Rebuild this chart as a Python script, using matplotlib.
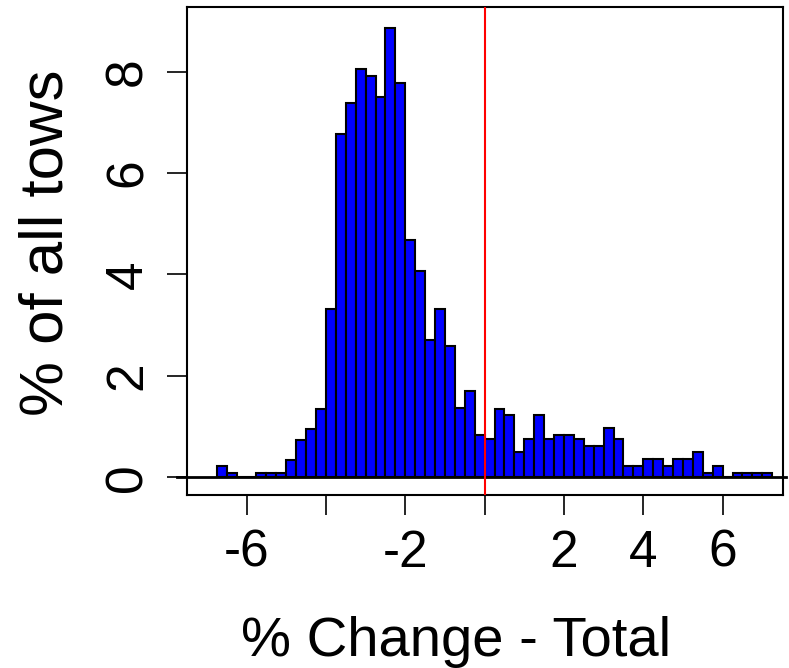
import numpy as np
import matplotlib
matplotlib.use("Agg")
import matplotlib.pyplot as plt

plt.rcParams["font.family"] = ["Liberation Sans", "DejaVu Sans"]

# histogram bins (width 0.25) and % of all tows in each bin
BIN_EDGES = np.arange(-6.75, 7.25 + 0.001, 0.25)
PCT_TOWS = [
    0.22, 0.09, 0.0, 0.0, 0.09, 0.09, 0.09, 0.34,
    0.74, 0.95, 1.35, 3.32, 6.77, 7.39, 8.05, 7.92,
    7.51, 8.87, 7.78, 4.68, 4.06, 2.71, 3.32, 2.58,
    1.36, 1.71, 0.83, 0.75, 1.35, 1.22, 0.49, 0.75,
    1.23, 0.75, 0.835, 0.835, 0.75, 0.62, 0.62, 0.97,
    0.75, 0.22, 0.22, 0.355, 0.355, 0.22, 0.355, 0.355,
    0.49, 0.09, 0.22, 0.0, 0.09, 0.09, 0.09, 0.09,
]
X_TICKS = [-6, -4, -2, 0, 2, 4, 6]
X_TICK_LABELS = ["-6", "", "-2", "", "2", "4", "6"]
Y_TICKS = [0, 2, 4, 6, 8]
Y_TICK_LABELS = ["0", "2", "4", "6", "8"]


def main():
    fig = plt.figure(figsize=(7.89, 6.68), dpi=100)
    ax = fig.add_axes([0.2366, 0.259, 0.7562, 0.730])

    ax.bar(BIN_EDGES[:-1], PCT_TOWS, width=np.diff(BIN_EDGES), align="edge",
           color="#0000ff", edgecolor="black", linewidth=1.5, zorder=2)
    ax.axhline(0, xmin=-0.016, xmax=1.005, color="black", linewidth=2,
               clip_on=False, zorder=3)
    ax.axvline(0, color="red", linewidth=1.5, zorder=4)

    ax.set_xlim(-7.51, 7.53)
    ax.set_ylim(-0.35, 9.27)

    for side in ax.spines.values():
        side.set_linewidth(1.5)

    ax.set_xticks(X_TICKS)
    ax.set_xticklabels(X_TICK_LABELS)
    ax.set_yticks(Y_TICKS)
    ax.set_yticklabels(Y_TICK_LABELS)
    ax.tick_params(length=14.4, width=1.2, labelsize=37)
    ax.tick_params(axis="x", pad=10)
    ax.tick_params(axis="y", pad=18)
    for lab in ax.get_yticklabels():
        lab.set_rotation(90)
        lab.set_rotation_mode("anchor")
        lab.set_ha("center")
        lab.set_va("baseline")

    ax.set_xlabel("% Change - Total", fontsize=40.5)
    ax.xaxis.label.set_va("baseline")
    ax.xaxis.set_label_coords(0.451, -0.330)
    ax.set_ylabel("% of all tows", fontsize=44.5)
    ax.yaxis.label.set_rotation_mode("anchor")
    ax.yaxis.label.set_va("baseline")
    ax.yaxis.label.set_ha("center")
    ax.yaxis.set_label_coords(-0.2073, 0.517)

    fig.savefig("out.png", dpi=100)
    plt.close(fig)


if __name__ == "__main__":
    main()
